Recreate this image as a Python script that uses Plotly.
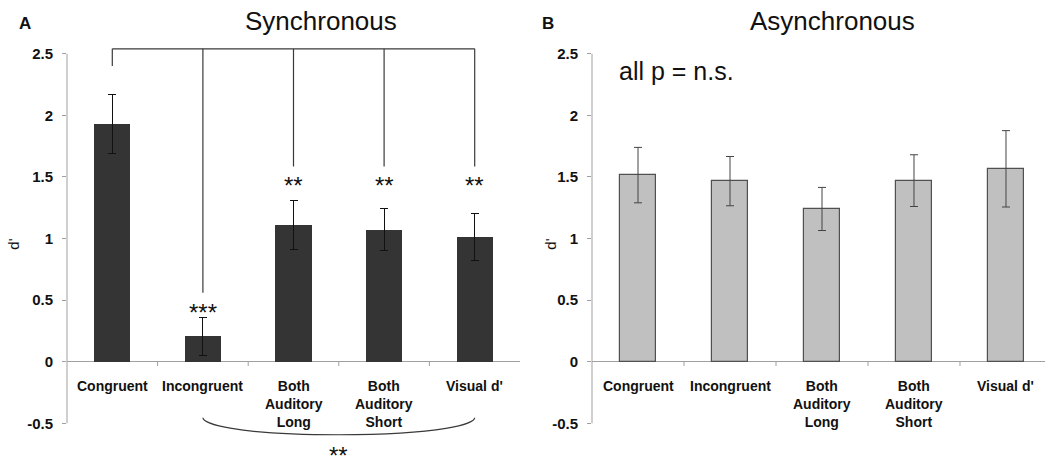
import plotly.graph_objects as go

# ---- data -------------------------------------------------------------
categories = ["Congruent", "Incongruent", "Both<br>Auditory<br>Long",
              "Both<br>Auditory<br>Short", "Visual d'"]

sync_dprime = [1.93, 0.205, 1.11, 1.07, 1.01]
sync_err = [0.24, 0.155, 0.195, 0.17, 0.19]

async_dprime = [1.515, 1.466, 1.24, 1.47, 1.566]
async_err = [0.225, 0.20, 0.175, 0.21, 0.31]

y_ticks = [-0.5, 0, 0.5, 1, 1.5, 2, 2.5]
y_ticktext = ["-0.5", "0", "0.5", "1", "1.5", "2", "2.5"]

# significance bracket (synchronous panel): each condition vs. Congruent
sig_marks = ["", "***", "**", "**", "**"]
bracket_top = 2.54
bracket_drop_end = [2.40, 0.56, 1.585, 1.585, 1.585]

# brace under Incongruent..Visual d'
brace_from, brace_to = 1, 4
brace_end_y, brace_low_y = -0.455, -0.593
brace_mark = "**"

# ---- style ------------------------------------------------------------
FONT = "Arial, 'Liberation Sans', sans-serif"
AXIS_GREY = "#a0a0a0"
Y_RANGE = [-0.66, 2.62]
W, H = 1045, 461
M_T, M_B = 39, 18


def px_to_paper_y(py):
    """Convert a pixel row (from the top of the page) to paper y."""
    return (H - M_B - py) / (H - M_T - M_B)


fig = go.Figure()

fig.add_trace(go.Bar(
    x=list(range(len(categories))), y=sync_dprime, width=0.4,
    marker=dict(color="#343434", line=dict(width=0)),
    error_y=dict(type="data", array=sync_err, color="#111111",
                 thickness=1, width=4),
    xaxis="x", yaxis="y", showlegend=False))

fig.add_trace(go.Bar(
    x=list(range(len(categories))), y=async_dprime, width=0.39,
    marker=dict(color="#c0c0c0", line=dict(width=1.2, color="#505050")),
    error_y=dict(type="data", array=async_err, color="#444444",
                 thickness=1, width=4),
    xaxis="x2", yaxis="y2", showlegend=False))

xax_common = dict(showticklabels=False, showline=False, ticks="",
                  showgrid=False, zeroline=False, fixedrange=True)
yax_common = dict(range=Y_RANGE, tickmode="array", tickvals=y_ticks,
                  ticktext=y_ticktext, ticks="outside", ticklen=4,
                  tickcolor=AXIS_GREY, showline=False, showgrid=False,
                  zeroline=True, zerolinecolor=AXIS_GREY, zerolinewidth=1,
                  tickfont=dict(family=FONT, size=15, color="#111111",
                                weight="bold"),
                  ticklabelstandoff=6)

fig.update_layout(
    width=W, height=H,
    margin=dict(l=0, r=0, t=M_T, b=M_B),
    paper_bgcolor="white", plot_bgcolor="white",
    bargap=0,
    xaxis=dict(domain=[67 / W, 520 / W], range=[-0.5, 4.5],
               anchor="y", **xax_common),
    yaxis=dict(anchor="x", **yax_common),
    xaxis2=dict(domain=[592 / W, 1.0], range=[-0.5, 4.424],
                anchor="y2", **xax_common),
    yaxis2=dict(anchor="x2", **yax_common),
)

shapes = []
annotations = []

for xa, ya, n_ticks in (("x", "y", 4), ("x2", "y2", 4)):
    # vertical axis line from -0.5 to 2.5
    shapes.append(dict(type="line", xref=f"{xa} domain", yref=ya,
                       x0=0, x1=0, y0=y_ticks[0], y1=y_ticks[-1],
                       line=dict(color=AXIS_GREY, width=1)))
    # category separator ticks on the zero line
    for k in range(n_ticks):
        shapes.append(dict(type="line", xref=xa, yref=ya,
                           x0=k + 0.5, x1=k + 0.5, y0=0, y1=-0.035,
                           line=dict(color=AXIS_GREY, width=1)))
    # category labels under the zero line
    for i, cat in enumerate(categories):
        annotations.append(dict(xref=xa, yref=ya, x=i, y=0, text=cat,
                                showarrow=False, xanchor="center",
                                yanchor="top", yshift=-14, align="center",
                                font=dict(family=FONT, size=14,
                                          color="#111111", weight="bold")))

# comparison bracket in the synchronous panel
bracket_line = dict(color="#3a3a3a", width=1.2)
shapes.append(dict(type="line", xref="x", yref="y", x0=0,
                   x1=len(categories) - 1, y0=bracket_top, y1=bracket_top,
                   line=bracket_line))
for i, end in enumerate(bracket_drop_end):
    shapes.append(dict(type="line", xref="x", yref="y", x0=i, x1=i,
                       y0=bracket_top, y1=end, line=bracket_line))
    if sig_marks[i]:
        annotations.append(dict(xref="x", yref="y", x=i, y=end,
                                text=sig_marks[i], showarrow=False,
                                xanchor="center", yanchor="top", yshift=-4,
                                font=dict(family=FONT, size=24,
                                          color="#111111")))

# curved brace with its own significance mark
mid = (brace_from + brace_to) / 2
shapes.append(dict(
    type="path", xref="x", yref="y",
    path=(f"M {brace_from},{brace_end_y} "
          f"C {brace_from},{brace_low_y + 0.09} {brace_from + 0.35},{brace_low_y} {mid},{brace_low_y} "
          f"C {brace_to - 0.35},{brace_low_y} {brace_to},{brace_low_y + 0.09} {brace_to},{brace_end_y}"),
    line=dict(color="#3a3a3a", width=1.2)))
annotations.append(dict(xref="x", yref="y", x=mid, y=brace_low_y,
                        text=brace_mark, showarrow=False, xanchor="center",
                        yanchor="top", yshift=-5,
                        font=dict(family=FONT, size=24, color="#111111")))

# panel letters, titles, axis titles, note
annotations += [
    dict(xref="paper", yref="paper", x=25 / W, y=px_to_paper_y(24),
         text="A", showarrow=False, xanchor="center", yanchor="middle",
         font=dict(family=FONT, size=17, color="#111111", weight="bold")),
    dict(xref="paper", yref="paper", x=548 / W, y=px_to_paper_y(24),
         text="B", showarrow=False, xanchor="center", yanchor="middle",
         font=dict(family=FONT, size=17, color="#111111", weight="bold")),
    dict(xref="paper", yref="paper", x=321 / W, y=px_to_paper_y(21),
         text="Synchronous", showarrow=False, xanchor="center",
         yanchor="middle", font=dict(family=FONT, size=26, color="#111111")),
    dict(xref="paper", yref="paper", x=832 / W, y=px_to_paper_y(21),
         text="Asynchronous", showarrow=False, xanchor="center",
         yanchor="middle", font=dict(family=FONT, size=26, color="#111111")),
    dict(xref="paper", yref="y", x=14 / W, y=0.95, text="d'",
         textangle=-90, showarrow=False, xanchor="center", yanchor="middle",
         font=dict(family=FONT, size=15, color="#111111")),
    dict(xref="paper", yref="y2", x=551 / W, y=0.95, text="d'",
         textangle=-90, showarrow=False, xanchor="center", yanchor="middle",
         font=dict(family=FONT, size=15, color="#111111")),
    dict(xref="x2", yref="y2", x=-0.23, y=2.36, text="all p = n.s.",
         showarrow=False, xanchor="left", yanchor="middle",
         font=dict(family=FONT, size=25, color="#111111")),
]

fig.update_layout(shapes=shapes, annotations=annotations)

fig.write_html("out.html")
